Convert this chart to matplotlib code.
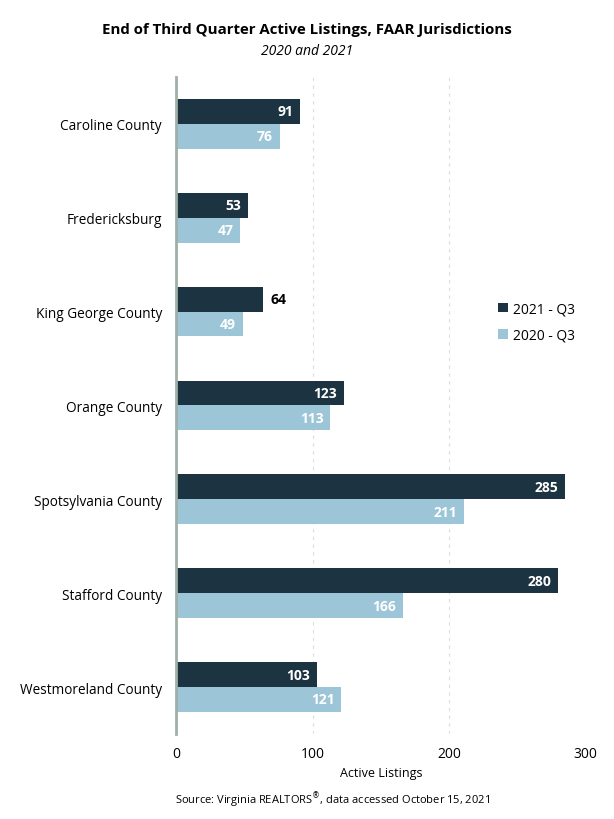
import matplotlib.pyplot as plt
import numpy as np

plt.rcParams['font.family'] = ['Open Sans', 'DejaVu Sans']

# data
counties = ["Caroline County", "Fredericksburg", "King George County", "Orange County",
            "Spotsylvania County", "Stafford County", "Westmoreland County"]
q3_2021 = [91, 53, 64, 123, 285, 280, 103]
q3_2020 = [76, 47, 49, 113, 211, 166, 121]

dark = '#1c3341'
light = '#9dc5d8'

fig = plt.figure(figsize=(6.14, 8.2), dpi=100)
ax = fig.add_axes([0.2866, 0.1037, 0.954 - 0.2866, 0.9049 - 0.1037])

y = np.arange(len(counties))
h = 0.265
b1 = ax.barh(y - h/2, q3_2021, height=h, color=dark, label='2021 - Q3', zorder=3)
b2 = ax.barh(y + h/2, q3_2020, height=h, color=light, label='2020 - Q3', zorder=3)

for bar, v in zip(b1, q3_2021):
    cy = bar.get_y() + bar.get_height()/2
    if v == 64:
        # this label sits outside its bar in the original
        ax.text(v + 5, cy, str(v), va='center', ha='left', color='black',
                fontsize=10, fontweight='bold')
    else:
        ax.text(v - 5, cy, str(v), va='center', ha='right', color='white',
                fontsize=10, fontweight='bold')
for bar, v in zip(b2, q3_2020):
    cy = bar.get_y() + bar.get_height()/2
    ax.text(v - 5, cy, str(v), va='center', ha='right', color='white',
            fontsize=10, fontweight='bold')

ax.set_ylim(len(counties) - 0.5, -0.5)
ax.set_xlim(0, 300)
ax.set_yticks(y)
ax.set_yticklabels(counties, fontsize=9.8)
ax.set_xticks([0, 100, 200, 300])
ax.tick_params(axis='x', labelsize=10, length=0, pad=9)
ax.tick_params(axis='y', length=0, pad=10)
ax.xaxis.grid(True, linestyle=(0, (3, 4)), color='#dcdcdc', linewidth=0.8, zorder=0)
for s in ['top', 'right', 'bottom']:
    ax.spines[s].set_visible(False)
ax.spines['left'].set_color('#9fb0a6')
ax.spines['left'].set_linewidth(2)
ax.spines['left'].set_zorder(4)
ax.set_xlabel('Active Listings', fontsize=9, labelpad=3)

leg = ax.legend(loc='center left', bbox_to_anchor=(0.755, 0.627), frameon=False,
                fontsize=10, handlelength=0.7, handleheight=0.7, handletextpad=0.4,
                labelspacing=0.8)

fig.text(0.5, 0.963, 'End of Third Quarter Active Listings, FAAR Jurisdictions',
         ha='center', va='center', fontsize=10.8, fontweight='bold')
fig.text(0.5, 0.937, '2020 and 2021', ha='center', va='center', fontsize=10, style='italic')
fig.text(0.541, 0.024, 'Source: Virginia REALTORS$^{®}$, data accessed October 15, 2021',
         ha='center', va='center', fontsize=8)

plt.savefig('out.png', dpi=100)
